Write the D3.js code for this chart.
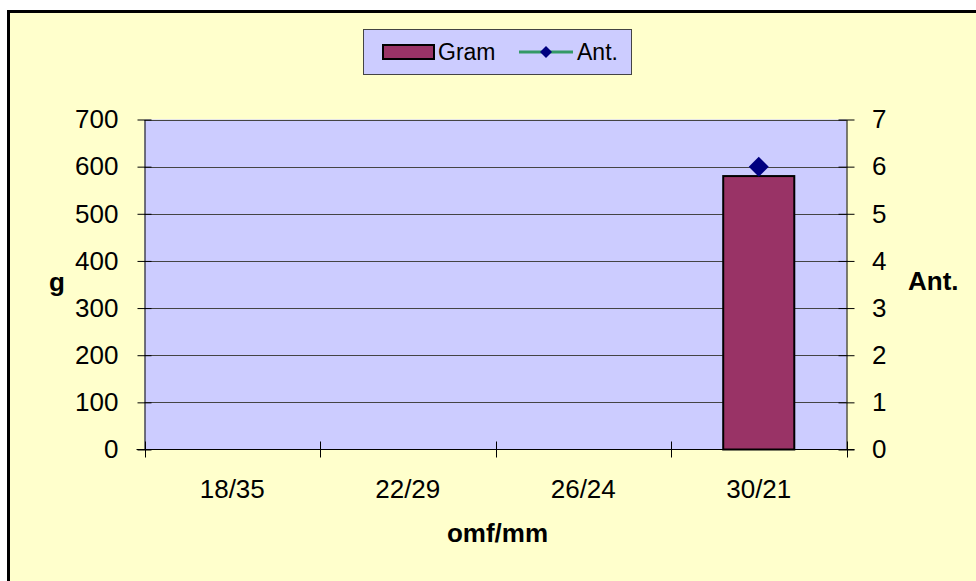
<!DOCTYPE html>
<html><head><meta charset="utf-8">
<script src="https://cdn.jsdelivr.net/npm/d3@7"></script>
<style>html,body{margin:0;padding:0;background:#fff;}svg{display:block;}</style>
</head><body>
<script>
const categories = ["18/35", "22/29", "26/24", "30/21"];
const gram = [null, null, null, 580];
const ant = [null, null, null, 6];
const leftTicks = [0, 100, 200, 300, 400, 500, 600, 700];
const rightTicks = [0, 1, 2, 3, 4, 5, 6, 7];
const seriesNames = ["Gram", "Ant."];
const xTitle = "omf/mm", yTitle = "g", y2Title = "Ant.";

const W = 976, H = 581;
const plot = {l: 144.5, r: 846.5, t: 119.5, b: 449.5};
const font = "'Liberation Sans', Arial, sans-serif";
const fs = 26;

const svg = d3.select("body").append("svg").attr("width", W).attr("height", H);
svg.append("rect").attr("x", 0).attr("y", 0).attr("width", W).attr("height", H).attr("fill", "#fff");
svg.append("rect").attr("x", 8.5).attr("y", 11.5).attr("width", W + 20).attr("height", H + 20)
  .attr("fill", "#FFFFCC").attr("stroke", "#000").attr("stroke-width", 3);

const x = d3.scaleBand().domain(categories).range([plot.l, plot.r]).padding(0);
const y = d3.scaleLinear().domain([0, 700]).range([plot.b, plot.t]);
const y2 = d3.scaleLinear().domain([0, 7]).range([plot.b, plot.t]);

svg.append("rect").attr("x", plot.l).attr("y", plot.t).attr("width", plot.r - plot.l).attr("height", plot.b - plot.t)
  .attr("fill", "#CCCCFF");

// gridlines
svg.append("g").selectAll("line").data(leftTicks.filter(d => d > 0)).join("line")
  .attr("x1", plot.l).attr("x2", plot.r).attr("y1", d => Math.round(y(d)) + 0.5).attr("y2", d => Math.round(y(d)) + 0.5)
  .attr("stroke", "#444").attr("stroke-width", 1);

// bars
const bw = x.bandwidth() * 0.405;
svg.append("g").selectAll("rect").data(categories.map((c, i) => ({c, v: gram[i]})).filter(d => d.v != null)).join("rect")
  .attr("x", d => x(d.c) + (x.bandwidth() - bw) / 2).attr("y", d => y(d.v))
  .attr("width", bw).attr("height", d => y(0) - y(d.v))
  .attr("fill", "#993366").attr("stroke", "#000").attr("stroke-width", 2);

// left axis
const gL = svg.append("g").attr("transform", `translate(${plot.l},0)`)
  .call(d3.axisLeft(y).tickValues(leftTicks).tickFormat(d3.format("d")).tickSizeInner(7).tickSizeOuter(0));
gL.select(".domain").attr("stroke", "#000").attr("stroke-width", 1);
gL.selectAll(".tick line").attr("stroke", "#000").attr("x2", -7).attr("x1", 7);
gL.selectAll(".tick text").attr("font-family", font).attr("font-size", fs).attr("fill", "#000").attr("x", -26);

// right axis
const gR = svg.append("g").attr("transform", `translate(${plot.r},0)`)
  .call(d3.axisRight(y2).tickValues(rightTicks).tickFormat(d3.format("d")).tickSizeInner(7).tickSizeOuter(0));
gR.select(".domain").attr("stroke", "#000").attr("stroke-width", 1);
gR.selectAll(".tick line").attr("stroke", "#000").attr("x1", -8).attr("x2", 8);
gR.selectAll(".tick text").attr("font-family", font).attr("font-size", fs).attr("fill", "#000").attr("x", 25.5);

// bottom axis
const gB = svg.append("g").attr("transform", `translate(0,${plot.b})`)
  .call(d3.axisBottom(x).tickSize(0).tickPadding(0));
gB.select(".domain").remove();
svg.append("line").attr("x1", plot.l - 8).attr("x2", plot.r + 8).attr("y1", plot.b).attr("y2", plot.b).attr("stroke", "#000");
const bounds = categories.map(c => x(c)).concat([x(categories[categories.length - 1]) + x.bandwidth()]);
svg.append("g").selectAll("line").data(bounds).join("line")
  .attr("x1", d => Math.round(d) + 0.5).attr("x2", d => Math.round(d) + 0.5)
  .attr("y1", plot.b - 8).attr("y2", plot.b + 8).attr("stroke", "#000");
gB.selectAll(".tick text").attr("font-family", font).attr("font-size", fs).attr("fill", "#000")
  .attr("dy", null).attr("y", 48);

// line series + markers
const pts = categories.map((c, i) => ({c, v: ant[i]})).filter(d => d.v != null);
svg.append("path").datum(pts)
  .attr("d", d3.line().x(d => x(d.c) + x.bandwidth() / 2).y(d => y2(d.v)))
  .attr("fill", "none").attr("stroke", "#339966").attr("stroke-width", 3);
svg.append("g").selectAll("path").data(pts).join("path")
  .attr("transform", d => `translate(${x(d.c) + x.bandwidth() / 2},${y2(d.v)})`)
  .attr("d", "M0,-10L10,0L0,10L-10,0Z").attr("fill", "#000080");

// titles
svg.append("text").attr("x", (plot.l + plot.r) / 2 + 2).attr("y", 542).attr("text-anchor", "middle")
  .attr("font-family", font).attr("font-size", fs).attr("font-weight", "bold").text(xTitle);
svg.append("text").attr("x", 57).attr("y", 291).attr("text-anchor", "middle")
  .attr("font-family", font).attr("font-size", fs).attr("font-weight", "bold").text(yTitle);
svg.append("text").attr("x", 908).attr("y", 290).attr("text-anchor", "start")
  .attr("font-family", font).attr("font-size", fs).attr("font-weight", "bold").text(y2Title);

// legend
const lg = svg.append("g");
lg.append("rect").attr("x", 363.5).attr("y", 29.5).attr("width", 268).attr("height", 45)
  .attr("fill", "#CCCCFF").attr("stroke", "#444").attr("stroke-width", 1);
lg.append("rect").attr("x", 383).attr("y", 45).attr("width", 51).attr("height", 14)
  .attr("fill", "#993366").attr("stroke", "#000").attr("stroke-width", 2);
lg.append("text").attr("x", 438).attr("y", 60).attr("font-family", font).attr("font-size", 23).text(seriesNames[0]);
lg.append("line").attr("x1", 519).attr("x2", 573).attr("y1", 52).attr("y2", 52).attr("stroke", "#339966").attr("stroke-width", 3);
lg.append("path").attr("transform", "translate(546,52)").attr("d", "M0,-6L6,0L0,6L-6,0Z").attr("fill", "#000080");
lg.append("text").attr("x", 577).attr("y", 60).attr("font-family", font).attr("font-size", 23).text(seriesNames[1]);
</script>
</body></html>
